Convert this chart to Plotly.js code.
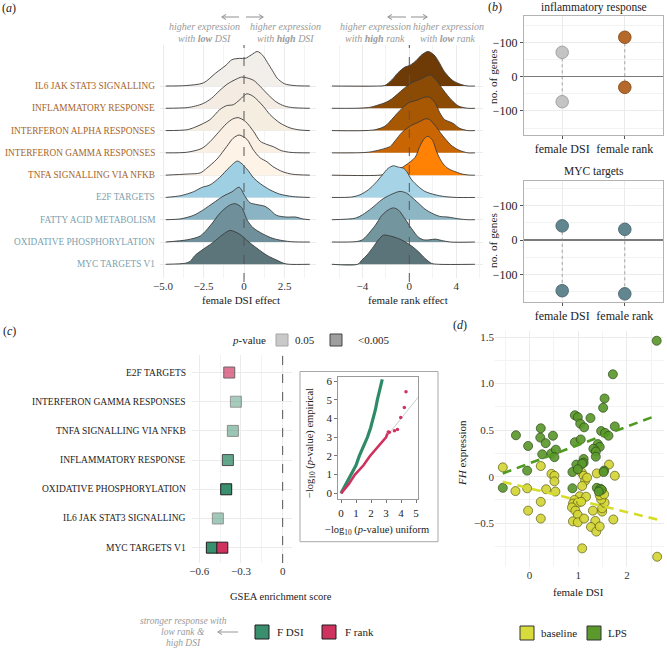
<!DOCTYPE html>
<html><head><meta charset="utf-8">
<script src="https://cdn.plot.ly/plotly-3.0.1.min.js"></script>
<style>html,body{margin:0;padding:0;background:#fff}#chart{width:667px;height:649px}</style>
</head><body><div id="chart"></div>
<script>
// ---------------- DATA ----------------
const pathways = ['IL6 JAK STAT3 SIGNALLING','INFLAMMATORY RESPONSE','INTERFERON ALPHA RESPONSES','INTERFERON GAMMA RESPONSES','TNFA SIGNALLING VIA NFKB','E2F TARGETS','FATTY ACID METABOLISM','OXIDATIVE PHOSPHORYLATION','MYC TARGETS V1'];
const pathwayIsImmune = [1,1,1,1,1,0,0,0,0];
const ridgeRow = [8,7,6,5,4,3,2,1,0];

// female DSI effect densities (x = effect, h = density height in row units)
const dsiEffectX = [
 [-4.83,-3.6,-2.5,-1.75,-1.1,-0.75,-0.26,0.08,0.46,0.82,1.15,1.45,1.75,2.05,2.5,3.1,4.06],
 [-4.83,-3.5,-3.0,-2.5,-2.0,-1.5,-1.0,-0.5,-0.15,0.2,0.6,1.0,1.5,2.0,2.5,3.0,4.06],
 [-4.83,-3.5,-2.9,-2.1,-1.5,-1.07,-0.66,-0.25,0.17,0.58,1.19,1.6,2.22,2.84,3.4,4.06],
 [-4.83,-3.5,-2.6,-2.1,-1.6,-1.1,-0.7,-0.35,0.1,0.6,1.0,1.4,1.8,2.3,2.9,4.06],
 [-4.83,-3.5,-2.7,-2.3,-1.67,-1.05,-0.68,-0.3,0.19,0.56,0.99,1.42,1.79,2.4,3.0,4.06],
 [-4.83,-3.9,-3.1,-2.6,-2.1,-1.5,-0.9,-0.4,0.15,0.6,1.0,1.6,2.2,3.0,4.06],
 [-4.83,-3.9,-3.1,-2.5,-1.9,-1.3,-0.75,-0.3,0.06,0.37,0.8,1.3,1.6,2.0,2.6,3.2,3.6,4.06],
 [-4.83,-3.5,-2.7,-2.1,-1.45,-0.9,-0.55,-0.15,0.2,0.56,1.17,1.79,2.4,3.0,4.06],
 [-4.83,-3.6,-3.33,-3.02,-2.53,-1.91,-1.3,-0.86,-0.25,0.25,0.8,1.42,2.04,2.47,2.8,4.06]
];
const dsiDensity = [
 [0,0.02,0.14,0.58,0.94,1.18,1.24,1.24,1.4,1.55,1.38,1.05,0.7,0.35,0.1,0.02,0],
 [0,0.03,0.1,0.22,0.45,0.8,1.1,1.3,1.4,1.36,1.25,0.98,0.6,0.28,0.1,0.03,0],
 [0,0.04,0.19,0.49,0.94,1.12,1.16,1.39,1.65,1.53,1.09,0.72,0.34,0.12,0.03,0],
 [0,0.03,0.2,0.5,0.9,1.3,1.52,1.58,1.4,0.95,0.52,0.38,0.28,0.1,0.02,0],
 [0,0.05,0.1,0.31,0.72,1.3,1.65,1.8,1.6,1.15,0.78,0.6,0.38,0.15,0.04,0],
 [0,0.08,0.26,0.45,0.56,0.9,1.35,1.63,1.3,0.87,0.62,0.34,0.15,0.04,0],
 [0,0.04,0.2,0.45,0.75,1.05,1.25,1.46,1.05,0.76,0.68,0.6,0.45,0.2,0.12,0.12,0.04,0],
 [0,0.1,0.27,0.72,1.32,1.65,1.72,1.55,0.98,0.64,0.36,0.16,0.06,0.01,0],
 [0,0.05,0.13,0.4,0.67,0.98,1.34,1.52,1.34,1.03,0.72,0.4,0.18,0.04,0,0]
];
// female rank effect densities
const rankEffectX = [
 [-6.6,-2.6,-2.1,-1.5,-0.96,-0.37,0.06,0.6,1.06,1.6,2.1,2.5,3.0,3.7,4.4,5.0,5.6],
 [-6.6,-3.5,-2.65,-2.07,-1.5,-0.54,0.2,1.06,1.76,2.3,2.9,3.6,4.2,5.0,5.6],
 [-6.6,-3.0,-2.07,-1.5,-1.07,-0.5,0.06,0.6,1.2,1.7,2.2,2.6,3.0,3.5,3.8,4.3,5.0,5.6],
 [-6.6,-3.5,-2.07,-1.6,-1.2,-0.6,0.2,0.8,1.4,1.7,2.2,2.8,3.2,3.55,4.2,5.0,5.6],
 [-6.6,-2.5,-1.8,-1.1,-0.3,0.5,0.9,1.3,1.6,2.0,2.3,2.6,2.9,3.3,3.7,4.5,5.2,5.6],
 [-6.6,-4.9,-4.2,-3.5,-2.9,-2.3,-1.8,-1.36,-0.94,-0.5,-0.22,0.2,0.77,1.33,2.2,3.0,4.0,5.6],
 [-6.6,-4.6,-4.0,-3.2,-2.35,-1.6,-0.8,-0.22,0.2,0.77,1.33,1.9,2.6,3.3,4.2,5.0,5.6],
 [-6.6,-4.5,-4.0,-3.6,-2.9,-2.35,-1.8,-1.36,-0.94,-0.37,0.2,0.77,1.2,1.76,2.2,2.75,3.5,5.6],
 [-6.6,-4.4,-4.05,-3.6,-3.06,-2.65,-2.2,-1.65,-0.94,-0.37,0.2,0.77,1.33,1.9,2.5,5.6]
];
const rankDensity = [
 [0,0,0.02,0.27,0.6,0.85,0.93,1.15,1.4,1.55,1.4,1.1,0.64,0.25,0.07,0,0],
 [0,0.03,0.15,0.25,0.42,0.85,1.15,1.33,1.5,1.27,0.82,0.37,0.1,0,0],
 [0,0.03,0.2,0.5,0.75,1.06,1.28,1.35,1.48,1.5,1.25,0.8,0.5,0.38,0.3,0.1,0,0],
 [0,0.03,0.2,0.3,0.55,0.93,1.24,1.38,1.53,1.5,1.23,0.8,0.55,0.35,0.13,0,0],
 [0,0,0.08,0.2,0.45,0.8,1.3,1.65,1.74,1.55,1.1,0.75,0.5,0.3,0.2,0.05,0,0],
 [0,0.02,0.12,0.34,0.64,1.01,1.31,1.42,1.36,1.31,1.16,0.79,0.49,0.27,0.12,0.04,0,0],
 [0,0.07,0.22,0.52,0.9,1.12,1.27,1.19,1.01,0.75,0.48,0.3,0.15,0.12,0.04,0,0],
 [0,0.02,0.1,0.3,0.75,1.19,1.44,1.53,1.44,1.04,0.6,0.22,0.1,0.1,0.13,0.07,0,0],
 [0,0,0.19,0.42,0.79,1.09,1.31,1.27,1.16,1.01,0.82,0.57,0.27,0.04,0,0]
];

// panel b: number of genes up / down
const geneGroups = ['female DSI','female rank'];
const inflamUp = [71, 115];
const inflamDown = [-73, -31];
const mycUp = [41, 31];
const mycDown = [-147, -156];

// panel c: GSEA enrichment
const gseaPathways = ['E2F TARGETS','INTERFERON GAMMA RESPONSES','TNFA SIGNALLING VIA NFKB','INFLAMMATORY RESPONSE','OXIDATIVE PHOSPHORYLATION','IL6 JAK STAT3 SIGNALLING','MYC TARGETS V1'];
const fdsiPathways = ['INTERFERON GAMMA RESPONSES','TNFA SIGNALLING VIA NFKB','INFLAMMATORY RESPONSE','OXIDATIVE PHOSPHORYLATION','IL6 JAK STAT3 SIGNALLING','MYC TARGETS V1'];
const fdsiES = [-0.336,-0.358,-0.394,-0.406,-0.466,-0.509];
const fdsiP = [0.05,0.04,0.012,0.002,0.045,0.001];
const frankPathways = ['E2F TARGETS','MYC TARGETS V1'];
const frankES = [-0.384,-0.434];
const frankP = [0.02,0.001];

// inset QQ
const qqDsiUniform = [0,0.35,0.71,1.0,1.22,1.5,1.76,1.97,2.16,2.3,2.42,2.55,2.65,2.75];
const qqDsiEmpirical = [0,0.5,1.0,1.5,2.0,2.5,3.0,3.5,4.0,4.5,5.0,5.45,5.8,6.1];
const qqRankUniform = [0,0.5,0.93,1.5,1.93,2.3,2.6,2.85,3.0,3.1];
const qqRankEmpirical = [0,0.48,1.0,1.5,2.0,2.35,2.65,2.85,3.0,3.2];
const qqRankTailUniform = [3.15,3.22,3.56,3.76,3.98,4.22,4.33];
const qqRankTailEmpirical = [3.28,3.27,3.35,3.42,4.06,4.59,5.43];

// panel d: FH expression vs female DSI
const lpsDSI = [2.61,1.71,1.54,1.51,0.93,0.99,1.25,1.04,1.12,1.75,0.23,-0.28,0.22,0.48,1.47,1.55,1.62,0.93,1.05,0.33,-0.03,1.40,1.44,0.26,0.45,0.54,0.51,1.31,1.36,1.36,1.11,0.96,1.11,1.08,0.88,0.99,1.53,1.52,-0.05,-0.55,1.38,1.45,1.48,0.88,1.42];
const lpsFH = [1.46,1.10,0.84,0.74,0.66,0.64,0.63,0.57,0.53,0.54,0.52,0.445,0.42,0.44,0.49,0.47,0.44,0.37,0.40,0.36,0.33,0.35,0.32,0.24,0.25,0.29,0.21,0.30,0.27,0.215,0.19,0.13,0.15,0.14,0.05,0.08,0.065,0.05,0.065,-0.12,-0.12,-0.13,-0.14,-0.125,-0.16];
const baseDSI = [-0.55,0.23,0.45,0.51,0.51,-0.29,-0.05,0.34,0.53,0.23,-0.03,0.23,1.07,1.11,1.14,1.18,1.38,1.63,1.75,1.03,1.16,0.92,0.89,0.99,1.06,0.87,0.94,0.99,0.89,0.99,1.12,1.30,1.35,1.26,1.37,1.44,1.49,1.49,1.54,1.47,1.44,1.49,1.72,1.08,2.62,1.53,1.08];
const baseFH = [0.1,0.115,0.03,0.01,-0.05,-0.155,-0.125,-0.135,-0.16,-0.27,-0.365,-0.45,0.045,0.01,-0.045,-0.01,0.035,0.13,0.01,-0.21,-0.215,-0.25,-0.29,-0.28,-0.27,-0.33,-0.365,-0.41,-0.48,-0.49,-0.45,-0.365,-0.475,-0.54,-0.59,-0.535,-0.375,-0.34,-0.28,-0.245,-0.2,-0.15,-0.46,-0.77,-0.86,-0.19,-0.10];
const fitDSI = [-0.55, 2.62];
const lpsFitFH = [0.035, 0.66];
const baseFitFH = [-0.055, -0.46];

// ---------------- HELPERS ----------------
const FONT = '"Liberation Serif", "Times New Roman", serif';
const W = 667, H = 649;
const fx = p => p / W, fy = p => 1 - p / H;
const xd = (a, b) => [fx(a), fx(b)];
const yd = (top, bot) => [fy(bot), fy(top)];
const GRID = '#ebebeb', MINOR = '#f3f3f3';

const traces = [];
const shapes = [];
const annotations = [];

function ann(text, X, Y, o) {
  o = o || {};
  annotations.push(Object.assign({
    text: text, x: fx(X), y: fy(Y), xref: 'paper', yref: 'paper', showarrow: false,
    xanchor: o.xanchor || 'center', yanchor: o.yanchor || 'middle',
    font: {family: FONT, size: o.size || 11, color: o.color || '#222'}
  }, o.extra || {}));
}
// arrow drawn as a line plus an open chevron head (pixel coords)
function arrow(headX, tailX, Y, color) {
  const c = color || '#9a9a9a';
  const d = tailX > headX ? 1 : -1;
  shapes.push({type: 'line', xref: 'paper', yref: 'paper', x0: fx(tailX), x1: fx(headX), y0: fy(Y), y1: fy(Y),
    line: {color: c, width: 1.1}, layer: 'above'});
  shapes.push({type: 'path', xref: 'paper', yref: 'paper',
    path: 'M' + fx(headX + 4 * d) + ',' + fy(Y - 2.6) + ' L' + fx(headX) + ',' + fy(Y) + ' L' + fx(headX + 4 * d) + ',' + fy(Y + 2.6),
    line: {color: c, width: 1.1}, layer: 'above'});
}
function box(x0, y0, x1, y1, fill, line) {
  shapes.push({type: 'rect', xref: 'paper', yref: 'paper', x0: fx(x0), x1: fx(x1), y0: fy(y1), y1: fy(y0),
    fillcolor: fill, line: {color: line, width: 1}, layer: 'above'});
}

// ---------------- PANEL A: RIDGES ----------------
const dsiFill = ['#f2eee9','#f4ece3','#f6ede1','#f9efe2','#fdf3e6','#9fcfe2','#8ab4c3','#6f909a','#5b757b'];
const rankFill = ['#6e3b07','#8c4b05','#a85703','#c96502','#ff8205','#a6d4e6','#8db6c5','#73959e','#5b7479'];
function ridge(xs, hs, row, fill, xa, ya) {
  traces.push({type: 'scatter', mode: 'lines', x: xs, y: hs.map(h => row + h), fill: 'toself',
    fillcolor: fill, line: {color: '#3b3b3b', width: 0.9, shape: 'spline', smoothing: 0.8},
    xaxis: xa, yaxis: ya, hoverinfo: 'skip', showlegend: false});
}
for (let i = 0; i < pathways.length; i++) {
  ridge(dsiEffectX[i], dsiDensity[i], ridgeRow[i], dsiFill[i], 'x', 'y');
  ridge(rankEffectX[i], rankDensity[i], ridgeRow[i], rankFill[i], 'x2', 'y2');
  ann(pathways[i], 157, 0, {xanchor: 'right', size: 9.3, color: pathwayIsImmune[i] ? '#a6652b' : '#7d9fae',
    extra: {yref: 'y', y: ridgeRow[i]}});
}
['x', 'x2'].forEach(a => shapes.push({type: 'line', xref: a, yref: 'paper', x0: 0, x1: 0, y0: fy(282), y1: fy(45),
  line: {color: '#555', width: 1, dash: 'dash'}, layer: 'above'}));

// ---------------- PANEL B ----------------
function lollipop(up, down, xa, ya, colors, lines) {
  const lx = [], ly = [];
  geneGroups.forEach((g, i) => { lx.push(i + 1, i + 1, null); ly.push(up[i], down[i], null); });
  traces.push({type: 'scatter', mode: 'lines', x: lx, y: ly, line: {color: '#8f8f8f', width: 0.8, dash: 'dot'},
    xaxis: xa, yaxis: ya, hoverinfo: 'skip', showlegend: false});
  geneGroups.forEach((g, i) => traces.push({type: 'scatter', mode: 'markers', x: [i + 1, i + 1], y: [up[i], down[i]],
    marker: {size: 12.5, color: colors[i], line: {color: lines[i], width: 1}},
    xaxis: xa, yaxis: ya, hoverinfo: 'skip', showlegend: false}));
}
lollipop(inflamUp, inflamDown, 'x3', 'y3', ['#c4c4c4', '#b5692a'], ['#a3a3a3', '#8c5220']);
lollipop(mycUp, mycDown, 'x4', 'y4', ['#62868f', '#62868f'], ['#4c6a71', '#4c6a71']);

// ---------------- PANEL C ----------------
const rowOf = p => gseaPathways.length - gseaPathways.indexOf(p);
const alphaOf = p => Math.max(0.45, Math.min(1, 0.45 + 0.55 * (Math.log10(0.05) - Math.log10(p))));
traces.push({type: 'scatter', mode: 'markers', x: fdsiES, y: fdsiPathways.map(rowOf),
  marker: {symbol: 'square', size: 11, color: '#3a8f6e', opacity: fdsiP.map(alphaOf), line: {color: '#1d1d1d', width: 1}},
  xaxis: 'x5', yaxis: 'y5', hoverinfo: 'skip', showlegend: false});
traces.push({type: 'scatter', mode: 'markers', x: frankES, y: frankPathways.map(rowOf),
  marker: {symbol: 'square', size: 11, color: '#d0325f', opacity: frankP.map(alphaOf), line: {color: '#1d1d1d', width: 1}},
  xaxis: 'x5', yaxis: 'y5', hoverinfo: 'skip', showlegend: false});
gseaPathways.forEach(p => ann(p, 188.5, 0, {xanchor: 'right', size: 9.5, color: '#222', extra: {yref: 'y5', y: rowOf(p)}}));
shapes.push({type: 'line', xref: 'x5', yref: 'y5 domain', x0: 0, x1: 0, y0: 0, y1: 1,
  line: {color: '#555', width: 1, dash: 'dash'}, layer: 'above'});

// inset QQ
box(300, 371.5, 438, 541.7, 'rgba(0,0,0,0)', '#a8a8a8');
shapes.push({type: 'line', xref: 'x6', yref: 'y6', x0: 0, y0: 0, x1: 5.15, y1: 5.15, line: {color: '#b5b5b5', width: 0.7}, layer: 'below'});
traces.push({type: 'scatter', mode: 'lines', x: qqDsiUniform, y: qqDsiEmpirical, line: {color: '#2f8a68', width: 3.2},
  xaxis: 'x6', yaxis: 'y6', hoverinfo: 'skip', showlegend: false});
traces.push({type: 'scatter', mode: 'lines', x: qqRankUniform, y: qqRankEmpirical, line: {color: '#d0325f', width: 2.6},
  xaxis: 'x6', yaxis: 'y6', hoverinfo: 'skip', showlegend: false});
traces.push({type: 'scatter', mode: 'markers', x: qqRankTailUniform, y: qqRankTailEmpirical, marker: {color: '#d0325f', size: 3.5},
  xaxis: 'x6', yaxis: 'y6', hoverinfo: 'skip', showlegend: false});

// ---------------- PANEL D ----------------
traces.push({type: 'scatter', mode: 'markers', x: baseDSI, y: baseFH,
  marker: {size: 9, color: '#d3d536', opacity: 0.92, line: {color: '#5e5e18', width: 0.8}},
  xaxis: 'x7', yaxis: 'y7', hoverinfo: 'skip', showlegend: false});
traces.push({type: 'scatter', mode: 'markers', x: lpsDSI, y: lpsFH,
  marker: {size: 9, color: '#5b992c', opacity: 0.92, line: {color: '#2c4a19', width: 0.8}},
  xaxis: 'x7', yaxis: 'y7', hoverinfo: 'skip', showlegend: false});
traces.push({type: 'scatter', mode: 'lines', x: fitDSI, y: lpsFitFH, line: {color: '#4f9a1f', width: 2.6, dash: '9px,6px'},
  xaxis: 'x7', yaxis: 'y7', hoverinfo: 'skip', showlegend: false});
traces.push({type: 'scatter', mode: 'lines', x: fitDSI, y: baseFitFH, line: {color: '#d5dc2a', width: 2.6, dash: '9px,6px'},
  xaxis: 'x7', yaxis: 'y7', hoverinfo: 'skip', showlegend: false});

// ---------------- TEXT ----------------
const GREY = '#9a9a9a';
ann('(<i>a</i>)', 9, 8, {size: 12});
ann('(<i>b</i>)', 495, 7, {size: 12});
ann('(<i>c</i>)', 9, 331, {size: 12});
ann('(<i>d</i>)', 460, 325, {size: 12});

ann('<i>higher expression</i>', 204, 27, {size: 10, color: GREY});
ann('<i>with <b>low</b> DSI</i>', 204, 38, {size: 10, color: GREY});
ann('<i>higher expression</i>', 285, 27, {size: 10, color: GREY});
ann('<i>with <b>high</b> DSI</i>', 285, 38, {size: 10, color: GREY});
ann('<i>higher expression</i>', 375, 27, {size: 10, color: GREY});
ann('<i>with <b>high</b> rank</i>', 375, 38, {size: 10, color: GREY});
ann('<i>higher expression</i>', 448, 27, {size: 10, color: GREY});
ann('<i>with <b>low</b> rank</i>', 448, 38, {size: 10, color: GREY});
arrow(222, 239, 17); arrow(263, 246, 17);
arrow(388, 406, 17); arrow(427, 411, 17);

ann('female DSI effect', 241, 300, {size: 11});
ann('female rank effect', 408, 300, {size: 11});

ann('inflammatory response', 594, 7, {size: 11.5});
ann('MYC targets', 594, 171, {size: 11.5});
ann('no. of genes', 493, 76, {size: 11.3, extra: {textangle: -90}});
ann('no. of genes', 493, 240, {size: 11.3, extra: {textangle: -90}});

ann('GSEA enrichment score', 281, 596, {size: 10.5});
ann('<i>p</i>-value', 249, 340, {size: 11});
box(276, 334, 288, 346, '#c9c9c9', '#a5a5a5');
ann('0.05', 293, 340, {size: 11, xanchor: 'left'});
box(330, 334, 342, 346, '#9e9e9e', '#454545');
ann('<0.005', 356, 340, {size: 11, xanchor: 'left'});

ann('−log<sub>10</sub> (<i>p</i>-value) empirical', 310, 443, {size: 10.5, extra: {textangle: -90}});
ann('−log<sub>10</sub> (<i>p</i>-value) uniform', 377, 530, {size: 10.5});

ann('<i>FH</i> expression', 462, 453, {size: 11, extra: {textangle: -90}});
ann('female DSI', 578, 592, {size: 11});

// bottom legends
ann('<i>stronger response with</i>', 183, 621, {size: 9.5, color: GREY});
ann('<i>low rank &</i>', 183, 632, {size: 9.5, color: GREY});
ann('<i>high DSI</i>', 183, 643, {size: 9.5, color: GREY});
arrow(218, 238, 632, '#a0a0a0');
box(255, 625, 269, 639, '#3a8f6e', '#1d1d1d');
ann('F DSI', 275, 632, {size: 11, xanchor: 'left'});
box(322, 625, 336, 639, '#d0325f', '#1d1d1d');
ann('F rank', 343, 632, {size: 11, xanchor: 'left'});
box(520, 626, 534, 640, '#d8db3c', '#333');
ann('baseline', 539, 633, {size: 11, xanchor: 'left'});
box(587, 626, 601, 640, '#5b992c', '#333');
ann('LPS', 606, 633, {size: 11, xanchor: 'left'});

// ---------------- LAYOUT ----------------
const tf = {family: FONT, size: 11, color: '#333'};
function ridgeX(dom, range, vals, text, minor) {
  return {domain: dom, range: range, tickvals: vals, ticktext: text, showgrid: true, gridcolor: GRID,
    minor: {tickvals: minor, showgrid: true, gridcolor: MINOR}, zeroline: false, showline: false,
    ticks: '', tickfont: tf, fixedrange: true};
}
const ridgeY = (anchor) => ({domain: yd(45, 278), range: [-0.615, 9.84], tickvals: [0,1,2,3,4,5,6,7,8],
  showticklabels: false, showgrid: true, gridcolor: GRID, zeroline: false, ticks: '', anchor: anchor});
function bX(dom, anchor) {
  return {domain: dom, range: [0.39, 2.61], tickvals: [1, 2], ticktext: geneGroups, anchor: anchor,
    showgrid: true, gridcolor: GRID, showline: true, mirror: true, linecolor: '#b3b3b3', linewidth: 1,
    ticks: 'outside', ticklen: 3, tickcolor: '#555', tickfont: {family: FONT, size: 12, color: '#222'}, zeroline: false};
}
function bY(dom, range, anchor) {
  return {domain: dom, range: range, tickvals: [100, 0, -100], ticktext: ['−100', '0', '−100'], anchor: anchor,
    showgrid: true, gridcolor: GRID, minor: {tickvals: [-150, -50, 50, 150], showgrid: true, gridcolor: MINOR},
    zeroline: true, zerolinecolor: '#7a7a7a', zerolinewidth: 1.2, showline: true, mirror: true,
    linecolor: '#b3b3b3', linewidth: 1, ticks: 'outside', ticklen: 3, tickcolor: '#555',
    tickfont: {family: FONT, size: 12, color: '#222'}};
}

const layout = {
  width: W, height: H, margin: {l: 0, r: 0, t: 0, b: 0}, paper_bgcolor: '#fff', plot_bgcolor: 'rgba(0,0,0,0)',
  showlegend: false, font: {family: FONT, size: 11, color: '#222'},
  xaxis: Object.assign(ridgeX(xd(160, 316), [-5.185, 4.444], [-5, -2.5, 0, 2.5], ['−5.0', '−2.5', '0', '2.5'], [-3.75, -1.25, 1.25, 3.75]), {anchor: 'y'}),
  yaxis: ridgeY('x'),
  xaxis2: Object.assign(ridgeX(xd(330, 483), [-6.77, 6.29], [-4, 0, 4], ['−4', '0', '4'], [-6, -2, 2, 6]), {anchor: 'y2'}),
  yaxis2: ridgeY('x2'),
  xaxis3: bX(xd(524, 663), 'y3'),
  yaxis3: bY(yd(16, 135), [-170, 177], 'x3'),
  xaxis4: bX(xd(524, 663), 'y4'),
  yaxis4: bY(yd(181, 301.7), [-178.8, 171], 'x4'),
  xaxis5: {domain: xd(191.7, 291.7), range: [-0.654, 0.065], tickvals: [-0.6, -0.3, 0], ticktext: ['−0.6', '−0.3', '0'],
    minor: {tickvals: [-0.45, -0.15], showgrid: true, gridcolor: MINOR}, showgrid: true, gridcolor: GRID,
    zeroline: false, ticks: '', tickfont: tf, anchor: 'y5'},
  yaxis5: {domain: yd(355, 563), range: [0.475, 7.6], tickvals: [1, 2, 3, 4, 5, 6, 7], showticklabels: false,
    showgrid: true, gridcolor: GRID, zeroline: false, ticks: '', anchor: 'x5'},
  xaxis6: {domain: xd(338.3, 418.3), range: [-0.18, 5.15], tickvals: [0, 1, 2, 3, 4, 5], showgrid: false, zeroline: false,
    showline: true, mirror: true, linecolor: '#9a9a9a', linewidth: 1, ticks: 'outside', ticklen: 3, tickcolor: '#777',
    tickfont: {family: FONT, size: 11, color: '#222'}, anchor: 'y6'},
  yaxis6: {domain: yd(377.3, 499.3), range: [-0.32, 6.21], tickvals: [0, 1, 2, 3, 4, 5, 6], showgrid: false, zeroline: false,
    showline: true, mirror: true, linecolor: '#9a9a9a', linewidth: 1, ticks: 'outside', ticklen: 3, tickcolor: '#777',
    tickfont: {family: FONT, size: 11, color: '#222'}, anchor: 'x6'},
  xaxis7: {domain: xd(495, 664), range: [-0.71, 2.76], tickvals: [0, 1, 2], showgrid: true, gridcolor: GRID,
    minor: {tickvals: [-0.5, 0.5, 1.5, 2.5], showgrid: true, gridcolor: MINOR}, zeroline: false, ticks: '', tickfont: tf, anchor: 'y7'},
  yaxis7: {domain: yd(331, 566.5), range: [-0.965, 1.565], tickvals: [-0.5, 0, 0.5, 1, 1.5], ticktext: ['−0.5', '0', '0.5', '1.0', '1.5'],
    showgrid: true, gridcolor: GRID, minor: {tickvals: [-0.75, -0.25, 0.25, 0.75, 1.25], showgrid: true, gridcolor: MINOR},
    zeroline: false, ticks: '', tickfont: tf, anchor: 'x7'},
  shapes: shapes, annotations: annotations
};

Plotly.newPlot('chart', traces, layout, {staticPlot: true, displayModeBar: false});
</script></body></html>
